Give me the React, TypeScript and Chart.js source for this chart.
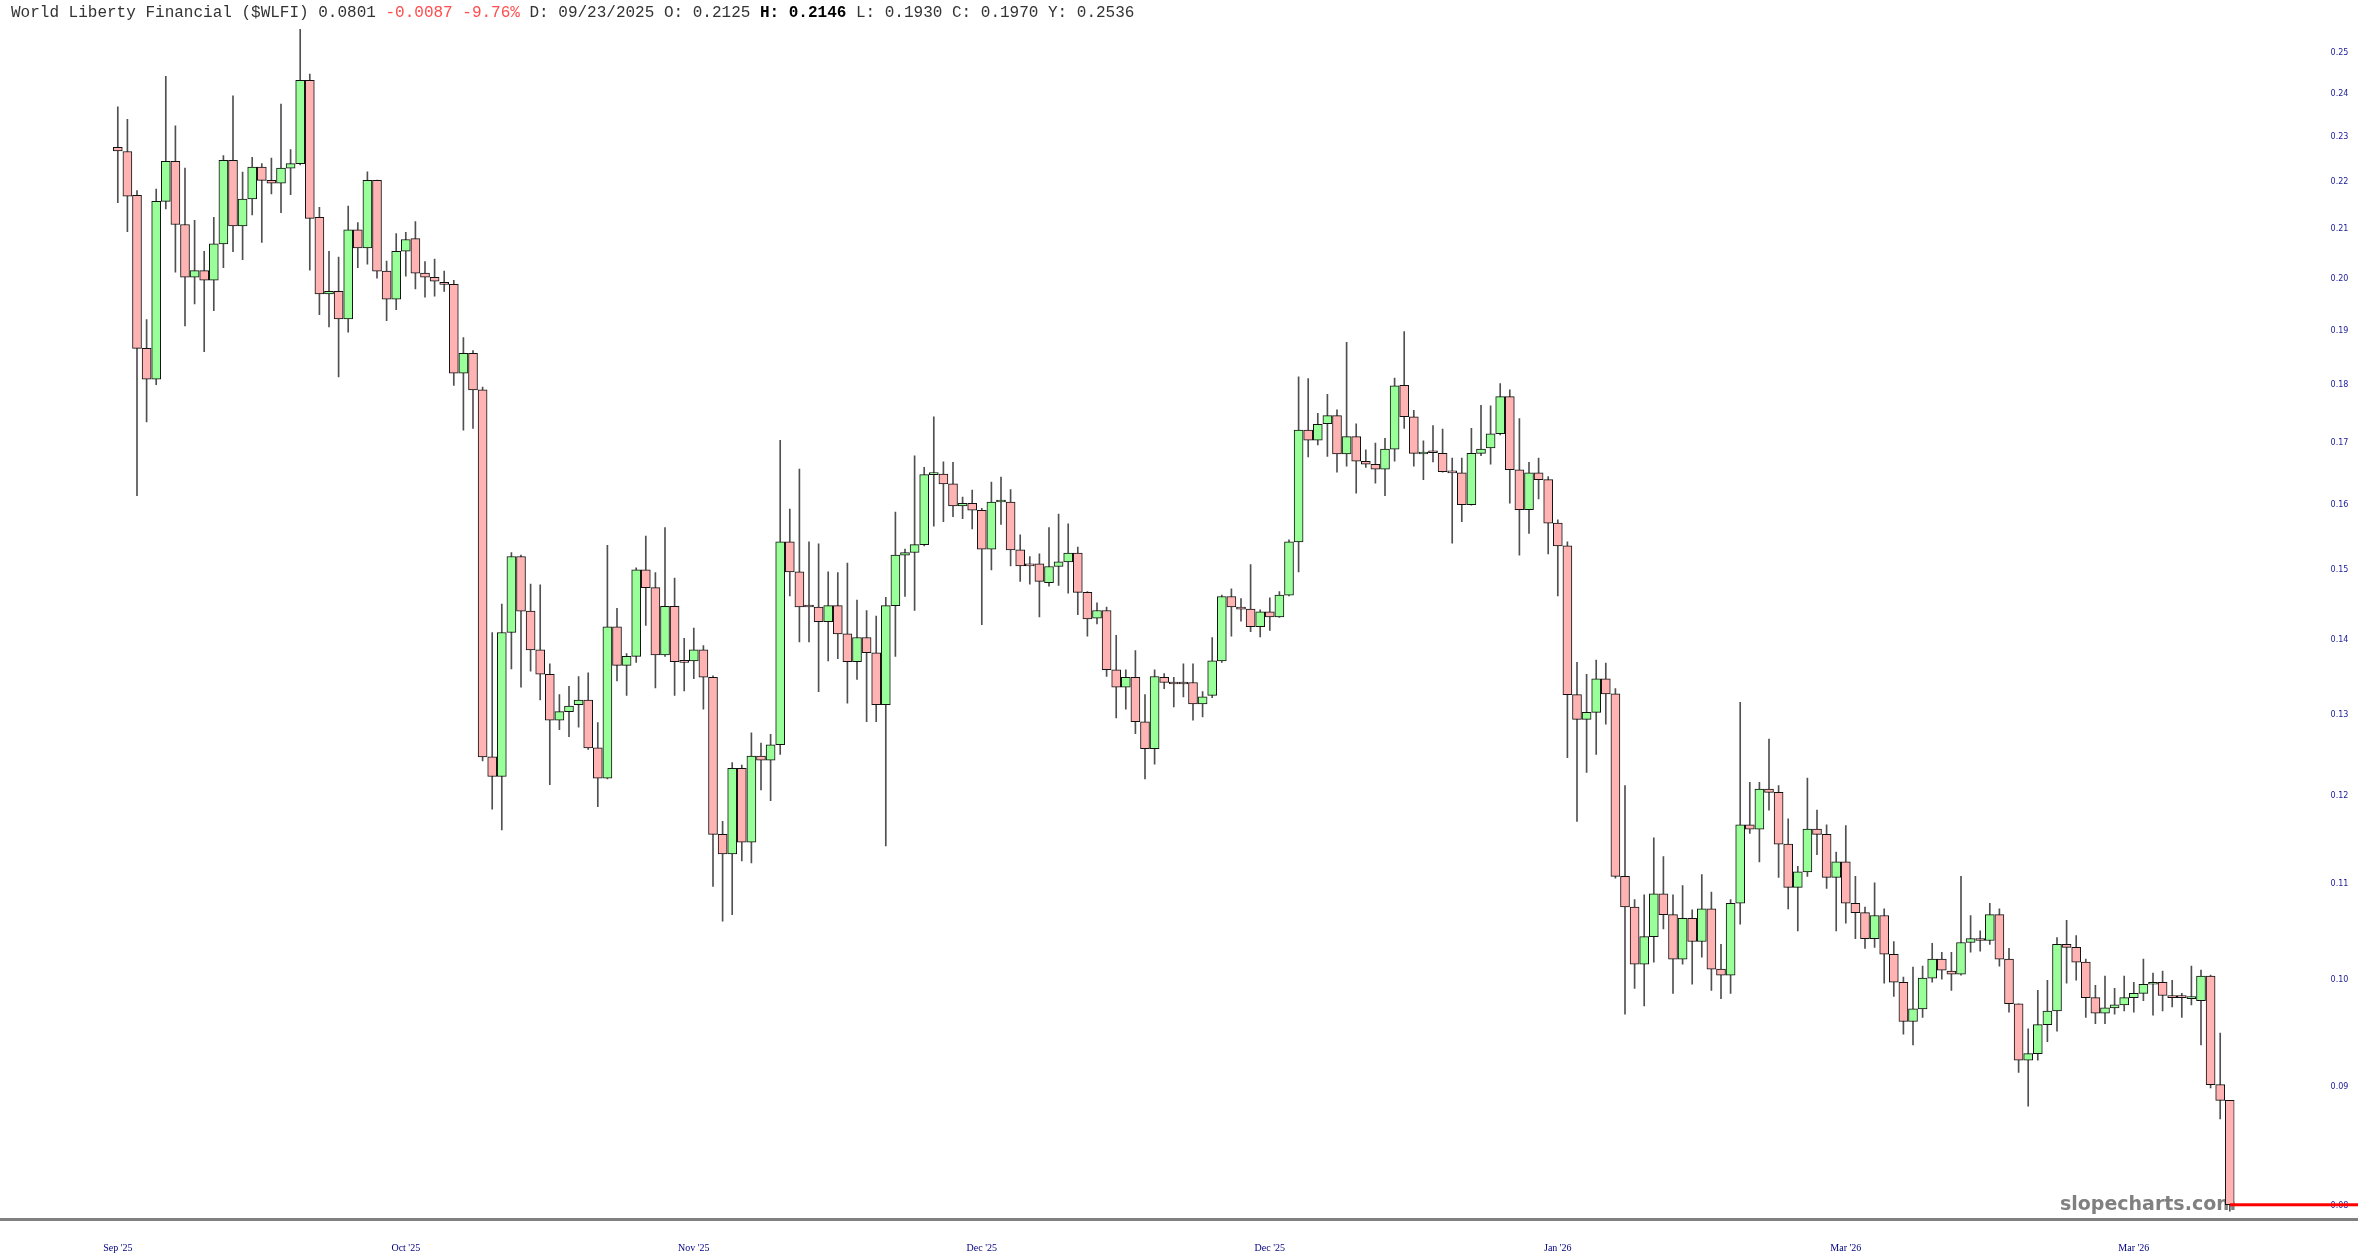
import { useEffect, useRef } from 'react';
import Chart from 'chart.js/auto';

// ---- DATA (daily candles) ----
const OPEN = [
  0.2277, 0.2268, 0.2172, 0.1867, 0.1811, 0.2159, 0.2246, 0.2110, 0.2003, 0.2016,
  0.1997, 0.2070, 0.2248, 0.2107, 0.2164, 0.2233, 0.2204, 0.2198, 0.2231, 0.2241,
  0.2433, 0.2125, 0.1970, 0.1975, 0.1922, 0.2099, 0.2062, 0.2204, 0.2015, 0.1960,
  0.2055, 0.2081, 0.2011, 0.2003, 0.1993, 0.1989, 0.1822, 0.1858, 0.1792, 0.1247,
  0.1223, 0.1410, 0.1520, 0.1440, 0.1386, 0.1353, 0.1293, 0.1304, 0.1313, 0.1319,
  0.1258, 0.1221, 0.1418, 0.1365, 0.1377, 0.1500, 0.1474, 0.1379, 0.1447, 0.1370,
  0.1371, 0.1386, 0.1349, 0.1155, 0.1133, 0.1233, 0.1146, 0.1248, 0.1243, 0.1262,
  0.1542, 0.1497, 0.1446, 0.1446, 0.1425, 0.1448, 0.1408, 0.1370, 0.1403, 0.1382,
  0.1313, 0.1448, 0.1522, 0.1526, 0.1538, 0.1648, 0.1649, 0.1633, 0.1598, 0.1602,
  0.1591, 0.1531, 0.1604, 0.1604, 0.1530, 0.1508, 0.1509, 0.1481, 0.1505, 0.1512,
  0.1525, 0.1467, 0.1430, 0.1441, 0.1359, 0.1336, 0.1349, 0.1291, 0.1257, 0.1349,
  0.1342, 0.1341, 0.1342, 0.1314, 0.1325, 0.1371, 0.1461, 0.1446, 0.1443, 0.1418,
  0.1439, 0.1432, 0.1463, 0.1542, 0.1722, 0.1705, 0.1733, 0.1747, 0.1682, 0.1711,
  0.1670, 0.1665, 0.1657, 0.1690, 0.1800, 0.1745, 0.1682, 0.1685, 0.1683, 0.1653,
  0.1651, 0.1600, 0.1683, 0.1692, 0.1716, 0.1780, 0.1656, 0.1592, 0.1651, 0.1640,
  0.1571, 0.1536, 0.1326, 0.1294, 0.1303, 0.1347, 0.1327, 0.1108, 0.1075, 0.1016,
  0.1044, 0.1089, 0.1067, 0.1021, 0.1063, 0.1039, 0.1073, 0.1011, 0.1005, 0.1079,
  0.1166, 0.1161, 0.1208, 0.1204, 0.1144, 0.1096, 0.1113, 0.1161, 0.1155, 0.1107,
  0.1124, 0.1079, 0.1069, 0.1042, 0.1066, 0.1026, 0.0998, 0.0960, 0.0972, 0.1002,
  0.1021, 0.1009, 0.1006, 0.1038, 0.1042, 0.1040, 0.1067, 0.1021, 0.0977, 0.0924,
  0.0930, 0.0957, 0.0970, 0.1036, 0.1033, 0.1018, 0.0983, 0.0968, 0.0973, 0.0976,
  0.0983, 0.0987, 0.0996, 0.0998, 0.0985, 0.0984, 0.0982, 0.0980, 0.1004, 0.0902,
  0.0888,
];
const HIGH = [
  0.2370, 0.2341, 0.2182, 0.1921, 0.2185, 0.2443, 0.2326, 0.2231, 0.2119, 0.2055,
  0.2125, 0.2259, 0.2396, 0.2222, 0.2255, 0.2241, 0.2253, 0.2377, 0.2272, 0.2559,
  0.2448, 0.2146, 0.2055, 0.2043, 0.2149, 0.2114, 0.2223, 0.2205, 0.2035, 0.2091,
  0.2094, 0.2116, 0.2034, 0.2039, 0.2015, 0.1997, 0.1887, 0.1863, 0.1797, 0.1410,
  0.1450, 0.1526, 0.1522, 0.1479, 0.1478, 0.1367, 0.1326, 0.1337, 0.1350, 0.1355,
  0.1290, 0.1537, 0.1444, 0.1381, 0.1503, 0.1551, 0.1496, 0.1564, 0.1488, 0.1402,
  0.1416, 0.1392, 0.1351, 0.1170, 0.1240, 0.1237, 0.1277, 0.1264, 0.1275, 0.1705,
  0.1593, 0.1657, 0.1542, 0.1539, 0.1497, 0.1496, 0.1510, 0.1456, 0.1441, 0.1433,
  0.1460, 0.1588, 0.1531, 0.1679, 0.1660, 0.1745, 0.1669, 0.1668, 0.1612, 0.1623,
  0.1594, 0.1636, 0.1644, 0.1624, 0.1553, 0.1520, 0.1524, 0.1564, 0.1585, 0.1570,
  0.1534, 0.1468, 0.1452, 0.1446, 0.1406, 0.1359, 0.1385, 0.1326, 0.1359, 0.1354,
  0.1349, 0.1367, 0.1367, 0.1330, 0.1403, 0.1463, 0.1472, 0.1458, 0.1508, 0.1442,
  0.1459, 0.1468, 0.1545, 0.1815, 0.1812, 0.1751, 0.1784, 0.1757, 0.1878, 0.1733,
  0.1689, 0.1700, 0.1708, 0.1813, 0.1898, 0.1756, 0.1704, 0.1730, 0.1724, 0.1675,
  0.1675, 0.1725, 0.1765, 0.1764, 0.1803, 0.1792, 0.1742, 0.1668, 0.1675, 0.1645,
  0.1576, 0.1542, 0.1369, 0.1353, 0.1372, 0.1368, 0.1334, 0.1212, 0.1083, 0.1088,
  0.1151, 0.1130, 0.1088, 0.1098, 0.1072, 0.1110, 0.1091, 0.1036, 0.1083, 0.1316,
  0.1216, 0.1216, 0.1269, 0.1212, 0.1173, 0.1119, 0.1221, 0.1183, 0.1166, 0.1135,
  0.1165, 0.1108, 0.1075, 0.1101, 0.1073, 0.1039, 0.1003, 0.1013, 0.1014, 0.1037,
  0.1028, 0.1028, 0.1108, 0.1066, 0.1050, 0.1079, 0.1073, 0.1032, 0.0977, 0.0953,
  0.0990, 0.1000, 0.1043, 0.1061, 0.1045, 0.1021, 0.0995, 0.1004, 0.0992, 0.1004,
  0.0998, 0.1021, 0.1007, 0.1009, 0.1000, 0.0987, 0.1014, 0.1010, 0.1005, 0.0949,
  0.0888,
];
const LOW = [
  0.2156, 0.2095, 0.1614, 0.1736, 0.1801, 0.2143, 0.2013, 0.1909, 0.1951, 0.1861,
  0.1938, 0.2022, 0.2054, 0.2038, 0.2130, 0.2073, 0.2175, 0.2135, 0.2173, 0.2238,
  0.2017, 0.1930, 0.1907, 0.1815, 0.1897, 0.2022, 0.2029, 0.2001, 0.1919, 0.1940,
  0.2005, 0.1980, 0.1964, 0.1966, 0.1975, 0.1800, 0.1722, 0.1725, 0.1242, 0.1184,
  0.1160, 0.1360, 0.1336, 0.1357, 0.1319, 0.1213, 0.1281, 0.1272, 0.1284, 0.1256,
  0.1187, 0.1220, 0.1344, 0.1325, 0.1369, 0.1420, 0.1335, 0.1377, 0.1325, 0.1331,
  0.1347, 0.1307, 0.1097, 0.1060, 0.1067, 0.1125, 0.1123, 0.1207, 0.1194, 0.1250,
  0.1462, 0.1397, 0.1397, 0.1330, 0.1371, 0.1374, 0.1315, 0.1346, 0.1291, 0.1291,
  0.1142, 0.1377, 0.1461, 0.1441, 0.1536, 0.1566, 0.1573, 0.1581, 0.1578, 0.1562,
  0.1421, 0.1500, 0.1569, 0.1506, 0.1483, 0.1479, 0.1432, 0.1476, 0.1477, 0.1466,
  0.1435, 0.1405, 0.1422, 0.1350, 0.1296, 0.1307, 0.1276, 0.1220, 0.1238, 0.1334,
  0.1310, 0.1323, 0.1293, 0.1297, 0.1322, 0.1369, 0.1405, 0.1426, 0.1411, 0.1404,
  0.1413, 0.1431, 0.1462, 0.1497, 0.1677, 0.1697, 0.1678, 0.1652, 0.1662, 0.1618,
  0.1660, 0.1634, 0.1614, 0.1670, 0.1725, 0.1662, 0.1640, 0.1669, 0.1652, 0.1540,
  0.1573, 0.1599, 0.1679, 0.1665, 0.1714, 0.1602, 0.1522, 0.1555, 0.1609, 0.1524,
  0.1462, 0.1246, 0.1170, 0.1228, 0.1250, 0.1288, 0.1106, 0.0967, 0.0992, 0.0975,
  0.1018, 0.1052, 0.0987, 0.1016, 0.0996, 0.1023, 0.0990, 0.0982, 0.0987, 0.1057,
  0.1156, 0.1124, 0.1183, 0.1107, 0.1073, 0.1050, 0.1108, 0.1132, 0.1095, 0.1050,
  0.1058, 0.1042, 0.1032, 0.1033, 0.0997, 0.0984, 0.0948, 0.0938, 0.0964, 0.0998,
  0.1001, 0.0990, 0.1005, 0.1028, 0.1029, 0.1036, 0.1014, 0.0969, 0.0913, 0.0883,
  0.0924, 0.0941, 0.0951, 0.0997, 0.1000, 0.0964, 0.0958, 0.0958, 0.0967, 0.0970,
  0.0969, 0.0980, 0.0966, 0.0970, 0.0974, 0.0964, 0.0976, 0.0938, 0.0899, 0.0872,
  0.0796,
];
const CLOSE = [
  0.2269, 0.2170, 0.1867, 0.1811, 0.2159, 0.2246, 0.2110, 0.2003, 0.2016, 0.1997,
  0.2070, 0.2248, 0.2107, 0.2164, 0.2233, 0.2204, 0.2198, 0.2231, 0.2241, 0.2433,
  0.2123, 0.1970, 0.1975, 0.1922, 0.2099, 0.2062, 0.2204, 0.2015, 0.1960, 0.2055,
  0.2079, 0.2011, 0.2003, 0.1995, 0.1989, 0.1822, 0.1858, 0.1792, 0.1247, 0.1223,
  0.1410, 0.1520, 0.1440, 0.1386, 0.1353, 0.1293, 0.1304, 0.1311, 0.1319, 0.1258,
  0.1221, 0.1418, 0.1365, 0.1377, 0.1500, 0.1474, 0.1379, 0.1447, 0.1370, 0.1369,
  0.1386, 0.1349, 0.1155, 0.1133, 0.1233, 0.1146, 0.1248, 0.1243, 0.1262, 0.1542,
  0.1497, 0.1446, 0.1446, 0.1425, 0.1448, 0.1408, 0.1370, 0.1403, 0.1382, 0.1313,
  0.1448, 0.1522, 0.1526, 0.1538, 0.1648, 0.1650, 0.1633, 0.1598, 0.1602, 0.1591,
  0.1531, 0.1604, 0.1605, 0.1530, 0.1506, 0.1506, 0.1483, 0.1505, 0.1512, 0.1525,
  0.1467, 0.1429, 0.1441, 0.1359, 0.1336, 0.1349, 0.1291, 0.1257, 0.1350, 0.1342,
  0.1340, 0.1340, 0.1314, 0.1323, 0.1371, 0.1461, 0.1446, 0.1443, 0.1418, 0.1439,
  0.1432, 0.1463, 0.1542, 0.1722, 0.1705, 0.1732, 0.1747, 0.1682, 0.1711, 0.1670,
  0.1665, 0.1657, 0.1690, 0.1799, 0.1745, 0.1683, 0.1685, 0.1684, 0.1653, 0.1651,
  0.1600, 0.1683, 0.1690, 0.1716, 0.1780, 0.1656, 0.1592, 0.1651, 0.1640, 0.1571,
  0.1536, 0.1326, 0.1294, 0.1303, 0.1347, 0.1327, 0.1108, 0.1075, 0.1016, 0.1044,
  0.1089, 0.1067, 0.1021, 0.1063, 0.1039, 0.1073, 0.1011, 0.1005, 0.1079, 0.1166,
  0.1161, 0.1208, 0.1204, 0.1144, 0.1096, 0.1113, 0.1161, 0.1155, 0.1107, 0.1124,
  0.1079, 0.1069, 0.1042, 0.1066, 0.1026, 0.0998, 0.0960, 0.0972, 0.1002, 0.1021,
  0.1010, 0.1006, 0.1038, 0.1042, 0.1040, 0.1067, 0.1021, 0.0977, 0.0924, 0.0930,
  0.0957, 0.0970, 0.1036, 0.1033, 0.1018, 0.0983, 0.0968, 0.0973, 0.0976, 0.0983,
  0.0987, 0.0996, 0.0997, 0.0985, 0.0983, 0.0983, 0.0984, 0.1004, 0.0902, 0.0888,
  0.0801,
];

const START_DATE = '2025-09-02';
const X_TICK_INDEX = [0, 30, 60, 90, 120, 150, 180, 210];
const X_TICK_LABELS = ["Sep '25", "Oct '25", "Nov '25", "Dec '25", "Dec '25", "Jan '26", "Mar '26", "Mar '26"];
const Y_TICKS = [0.08, 0.09, 0.10, 0.11, 0.12, 0.13, 0.14, 0.15, 0.16, 0.17, 0.18, 0.19, 0.20, 0.21, 0.22, 0.23, 0.24, 0.25];
const Y_MIN = 0.07906;
const Y_MAX = 0.25826;

const CATEGORIES = OPEN.map((_, i) => {
  const d = new Date(START_DATE + 'T00:00:00Z');
  d.setUTCDate(d.getUTCDate() + i);
  return `${String(d.getUTCMonth() + 1).padStart(2, '0')}/${String(d.getUTCDate()).padStart(2, '0')}/${d.getUTCFullYear()}`;
});

const GREEN = '#99ff99';
const RED = '#ffb3b3';

export default function App() {
  const ref = useRef<HTMLCanvasElement>(null);

  useEffect(() => {
    document.body.style.margin = '0';
    const canvas = ref.current!;
    const last = CLOSE.length - 1;

    const overlay = {
      id: 'overlay',
      beforeDatasetsDraw(chart: any) {
        const { ctx } = chart;
        ctx.save();
        ctx.font = 'bold 19px "DejaVu Sans"';
        ctx.fillStyle = '#808080';
        ctx.textAlign = 'right';
        ctx.textBaseline = 'alphabetic';
        ctx.fillText('slopecharts.com', 2236, 1210);
        ctx.restore();
      },
      afterDraw(chart: any) {
        const { ctx, chartArea, scales } = chart;
        ctx.save();
        ctx.fillStyle = '#808080';
        ctx.fillRect(0, chartArea.bottom, chart.width, 3);
        const y = scales.y.getPixelForValue(CLOSE[last]);
        const x0 = scales.x.getPixelForValue(last);
        ctx.fillStyle = '#ff0000';
        ctx.fillRect(x0, y - 1.5, chart.width - x0, 3);
        ctx.restore();
      },
    };

    const chart = new Chart(canvas, {
      type: 'bar',
      data: {
        labels: CATEGORIES,
        datasets: [
          {
            label: 'body',
            data: OPEN.map((o, i) => [o, CLOSE[i]]) as any,
            backgroundColor: OPEN.map((o, i) => (CLOSE[i] > o ? GREEN : RED)),
            borderColor: '#111111',
            borderWidth: 1,
            borderSkipped: false,
            barThickness: 9,
            minBarLength: 2,
            grouped: false,
            order: 1,
          } as any,
          {
            label: 'wick',
            data: LOW.map((l, i) => [l, HIGH[i]]) as any,
            backgroundColor: '#505050',
            borderWidth: 0,
            barThickness: 1,
            grouped: false,
            order: 2,
          } as any,
        ],
      },
      options: {
        responsive: false,
        devicePixelRatio: 1,
        animation: false,
        events: [],
        layout: { padding: { left: 113, top: 20, right: 0, bottom: 0 } },
        plugins: { legend: { display: false }, tooltip: { enabled: false } },
        scales: {
          x: {
            type: 'category',
            offset: true,
            grid: { display: false },
            border: { display: false },
            ticks: {
              autoSkip: false,
              maxRotation: 0,
              minRotation: 0,
              padding: 16,
              color: '#000080',
              font: { family: '"Liberation Serif"', size: 10 },
              callback: (v: any) => {
                const k = X_TICK_INDEX.indexOf(Number(v));
                return k >= 0 ? X_TICK_LABELS[k] : '';
              },
            },
            afterBuildTicks: (scale: any) => {
              scale.ticks = X_TICK_INDEX.map((v) => ({ value: v }));
            },
            afterFit: (scale: any) => {
              scale.height = 42;
              scale.paddingLeft = 0;
              scale.paddingRight = 0;
            },
          },
          y: {
            type: 'logarithmic',
            position: 'right',
            min: Y_MIN,
            max: Y_MAX,
            grid: { display: false },
            border: { display: false },
            ticks: {
              padding: 88,
              color: '#1a1a99',
              font: { family: '"DejaVu Sans"', size: 8 },
              callback: (v: any) => Number(v).toFixed(2),
            },
            afterBuildTicks: (scale: any) => {
              scale.ticks = Y_TICKS.map((v) => ({ value: v }));
            },
            afterFit: (scale: any) => {
              scale.width = 123.4;
              scale.paddingTop = 0;
              scale.paddingBottom = 0;
            },
          },
        },
      } as any,
      plugins: [overlay],
    });
    return () => chart.destroy();
  }, []);

  return (
    <div style={{ position: 'fixed', left: 0, top: 0, width: 2358, height: 1260, background: '#ffffff', overflow: 'hidden' }}>
      <canvas ref={ref} width={2358} height={1260} style={{ display: 'block', width: 2358, height: 1260 }} />
      <div
        style={{
          position: 'absolute',
          left: 11,
          top: 4,
          font: '16px "Liberation Mono", monospace',
          lineHeight: '18px',
          color: '#333333',
          whiteSpace: 'pre',
        }}
      >
        <span>World Liberty Financial ($WLFI) 0.0801 </span>
        <span style={{ color: '#ff4d4d' }}>-0.0087 -9.76%</span>
        <span> D: 09/23/2025 O: 0.2125 </span>
        <span style={{ fontWeight: 'bold', color: '#000' }}>H: 0.2146</span>
        <span> L: 0.1930 C: 0.1970 Y: 0.2536</span>
      </div>
    </div>
  );
}
